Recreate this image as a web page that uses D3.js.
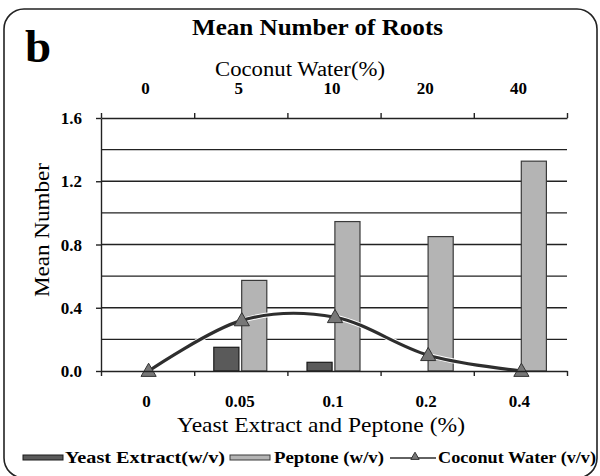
<!DOCTYPE html>
<html>
<head>
<meta charset="utf-8">
<script src="https://cdn.jsdelivr.net/npm/d3@7"></script>
<style>
  body { margin: 0; background: #fff; }
  svg { font-family: "Liberation Serif", "DejaVu Serif", serif; }
</style>
</head>
<body>
<svg id="chart" width="600" height="476"></svg>
<script>
"use strict";

// categories (bottom axis) and coconut water levels (top axis)
const yeastPeptone = [ '0', '0.05', '0.1', '0.2', '0.4' ];
const coconut      = [ '0', '5', '10', '20', '40' ];

// series values
const yeastExtract = [ 0, 0.15, 0.055, 0, 0 ];
const peptone      = [ 0, 0.573, 0.945, 0.85, 1.327 ];
const coconutWater = [ 0, 0.32, 0.34, 0.10, 0 ];

const yTicks = [ 0, 0.4, 0.8, 1.2, 1.6 ];
const yGrid  = [ 0.2, 0.4, 0.6, 0.8, 1.0, 1.2, 1.4 ];

const svg = d3.select( '#chart' );

// plot area
const margin = { left: 101, right: 33, top: 118, bottom: 105 },
      width  = 600 - margin.left - margin.right,
      height = 476 - margin.top - margin.bottom;

// frame
svg.append( 'rect' )
    .attr( 'x', 4 ).attr( 'y', 9 )
    .attr( 'width', 593 ).attr( 'height', 469 )
    .attr( 'rx', 20 )
    .style( 'fill', 'none' )
    .style( 'stroke', '#222' )
    .style( 'stroke-width', 1.6 );

svg.append( 'text' )
    .attr( 'x', 25 ).attr( 'y', 62 )
    .style( 'font-size', '47px' )
    .style( 'font-weight', 'bold' )
    .text( 'b' );

// fitted text helper
const fitText = (sel, len) => sel.attr( 'textLength', len ).attr( 'lengthAdjust', 'spacingAndGlyphs' );

svg.append( 'text' )
    .attr( 'x', 192 ).attr( 'y', 35 )
    .call( fitText, 251 )
    .style( 'font-size', '23px' )
    .style( 'font-weight', 'bold' )
    .text( 'Mean Number of Roots' );

const g = svg.append( 'g' )
             .attr( 'transform', `translate(${margin.left}, ${margin.top})` );

// scales
const x = d3.scaleBand()
            .domain( yeastPeptone )
            .range( [0, width] );

const y = d3.scaleLinear()
            .domain( [0, 1.6] )
            .range( [height, 0] );

const xSub = d3.scaleBand()
               .domain( [ 'yeast', 'peptone' ] )
               .range( [ x.bandwidth() / 2 - 27, x.bandwidth() / 2 + 26 ] )
               .paddingInner( 0.1 );

// gridlines
g.append( 'g' )
    .attr( 'class', 'grid' )
  .selectAll( 'line' )
    .data( yGrid )
  .enter().append( 'line' )
    .attr( 'x1', 0 ).attr( 'x2', width )
    .attr( 'y1', d => y( d ) ).attr( 'y2', d => y( d ) )
    .style( 'stroke', '#222' )
    .style( 'stroke-width', 1.3 );

// bars
const bars = g.append( 'g' ).attr( 'class', 'bars' );
bars.selectAll( 'rect.yeast' )
    .data( yeastExtract.map( (v,i) => ({ k: yeastPeptone[i], v }) ).filter( d => d.v > 0 ) )
  .enter().append( 'rect' )
    .attr( 'class', 'yeast' )
    .attr( 'x', d => x( d.k ) + xSub( 'yeast' ) )
    .attr( 'width', xSub.bandwidth() )
    .attr( 'y', d => y( d.v ) )
    .attr( 'height', d => y( 0 ) - y( d.v ) )
    .style( 'fill', '#5a5a5a' )
    .style( 'stroke', '#1a1a1a' )
    .style( 'stroke-width', 1.2 );
bars.selectAll( 'rect.peptone' )
    .data( peptone.map( (v,i) => ({ k: yeastPeptone[i], v }) ).filter( d => d.v > 0 ) )
  .enter().append( 'rect' )
    .attr( 'class', 'peptone' )
    .attr( 'x', d => x( d.k ) + xSub( 'peptone' ) )
    .attr( 'width', xSub.bandwidth() )
    .attr( 'y', d => y( d.v ) )
    .attr( 'height', d => y( 0 ) - y( d.v ) )
    .style( 'fill', '#b4b4b4' )
    .style( 'stroke', '#3a3a3a' )
    .style( 'stroke-width', 1.2 );

// smoothed coconut water line
const cx = (d,i) => x( yeastPeptone[i] ) + x.bandwidth() / 2 + 1;
const line = d3.line()
               .x( cx )
               .y( d => y( d ) )
               .curve( d3.curveCatmullRom.alpha( 0 ) );
g.append( 'path' )
    .attr( 'd', line( coconutWater ) )
    .style( 'fill', 'none' )
    .style( 'stroke', '#fff' )
    .style( 'stroke-width', 5 );
g.append( 'path' )
    .attr( 'd', line( coconutWater ) )
    .style( 'fill', 'none' )
    .style( 'stroke', '#2e2e2e' )
    .style( 'stroke-width', 3.2 );

const tri = d3.symbol().type( d3.symbolTriangle ).size( 100 );
g.append( 'g' )
    .attr( 'class', 'markers' )
  .selectAll( 'path' )
    .data( coconutWater )
  .enter().append( 'path' )
    .attr( 'd', tri )
    .attr( 'transform', (d,i) => `translate(${cx( d, i )}, ${y( d ) + 1})` )
    .style( 'fill', '#777' )
    .style( 'stroke', '#333' )
    .style( 'stroke-width', 1 );

// axes lines and ticks
const axisStyle = sel => {
  sel.select( '.domain' ).style( 'stroke', '#222' ).style( 'stroke-width', 1.4 );
  sel.selectAll( '.tick line' ).style( 'stroke', '#222' ).style( 'stroke-width', 1.4 );
  sel.selectAll( 'text' ).remove();
};

const bandEdges = d3.scaleLinear().domain( [0, 5] ).range( [0, width] );

g.append( 'g' )
    .attr( 'transform', `translate(0, ${height})` )
    .call( d3.axisBottom( bandEdges ).tickValues( d3.range( 6 ) ).tickSize( 5 ).tickSizeOuter( 0 ) )
    .call( axisStyle );

g.append( 'g' )
    .call( d3.axisTop( bandEdges ).tickValues( d3.range( 6 ) ).tickSize( 5 ).tickSizeOuter( 0 ) )
    .call( axisStyle );

g.append( 'g' )
    .call( d3.axisLeft( y ).tickValues( yTicks ).tickSize( 5 ).tickSizeOuter( 0 ) )
    .call( axisStyle );

// tick labels
g.append( 'g' )
  .selectAll( 'text' )
    .data( yTicks )
  .enter().append( 'text' )
    .attr( 'x', -19 )
    .attr( 'y', d => y( d ) + 6 )
    .style( 'text-anchor', 'end' )
    .style( 'font-size', '17px' )
    .style( 'font-weight', 'bold' )
    .text( d => d.toFixed( 1 ) );

g.append( 'g' )
  .selectAll( 'text' )
    .data( yeastPeptone )
  .enter().append( 'text' )
    .attr( 'x', d => x( d ) + x.bandwidth() / 2 - 1 )
    .attr( 'y', height + 36 )
    .style( 'text-anchor', 'middle' )
    .style( 'font-size', '17px' )
    .style( 'font-weight', 'bold' )
    .text( d => d );

g.append( 'g' )
  .selectAll( 'text' )
    .data( coconut )
  .enter().append( 'text' )
    .attr( 'x', (d,i) => x( yeastPeptone[i] ) + x.bandwidth() / 2 - 2 )
    .attr( 'y', -24 )
    .style( 'text-anchor', 'middle' )
    .style( 'font-size', '17px' )
    .style( 'font-weight', 'bold' )
    .text( d => d );

// axis titles
svg.append( 'text' )
    .attr( 'x', 215 ).attr( 'y', 76 )
    .call( fitText, 170 )
    .style( 'font-size', '20px' )
    .text( 'Coconut Water(%)' );

svg.append( 'text' )
    .attr( 'x', 177 ).attr( 'y', 432 )
    .call( fitText, 288 )
    .style( 'font-size', '22px' )
    .text( 'Yeast Extract and Peptone (%)' );

svg.append( 'text' )
    .attr( 'transform', 'translate(49, 297) rotate(-90)' )
    .call( fitText, 134 )
    .style( 'font-size', '22px' )
    .text( 'Mean Number' );

// legend
const legend = svg.append( 'g' ).attr( 'transform', 'translate(0, 458)' );
const legendText = (x0, len, t) => legend.append( 'text' )
    .attr( 'x', x0 ).attr( 'y', 5 )
    .call( fitText, len )
    .style( 'font-size', '16px' ).style( 'font-weight', 'bold' )
    .text( t );

legend.append( 'rect' )
    .attr( 'x', 23 ).attr( 'y', -3 ).attr( 'width', 40 ).attr( 'height', 5 )
    .style( 'fill', '#5a5a5a' ).style( 'stroke', '#1a1a1a' );
legendText( 65, 160, 'Yeast Extract(w/v)' );

legend.append( 'rect' )
    .attr( 'x', 230 ).attr( 'y', -3 ).attr( 'width', 40 ).attr( 'height', 5 )
    .style( 'fill', '#b4b4b4' ).style( 'stroke', '#3a3a3a' );
legendText( 274, 110, 'Peptone (w/v)' );

legend.append( 'line' )
    .attr( 'x1', 390 ).attr( 'x2', 436 ).attr( 'y1', 0 ).attr( 'y2', 0 )
    .style( 'stroke', '#2e2e2e' ).style( 'stroke-width', 1.5 );
legend.append( 'path' )
    .attr( 'd', d3.symbol().type( d3.symbolTriangle ).size( 30 ) )
    .attr( 'transform', 'translate(415, -1)' )
    .style( 'fill', '#777' ).style( 'stroke', '#333' );
legendText( 438, 158, 'Coconut Water (v/v)' );
</script>
</body>
</html>
